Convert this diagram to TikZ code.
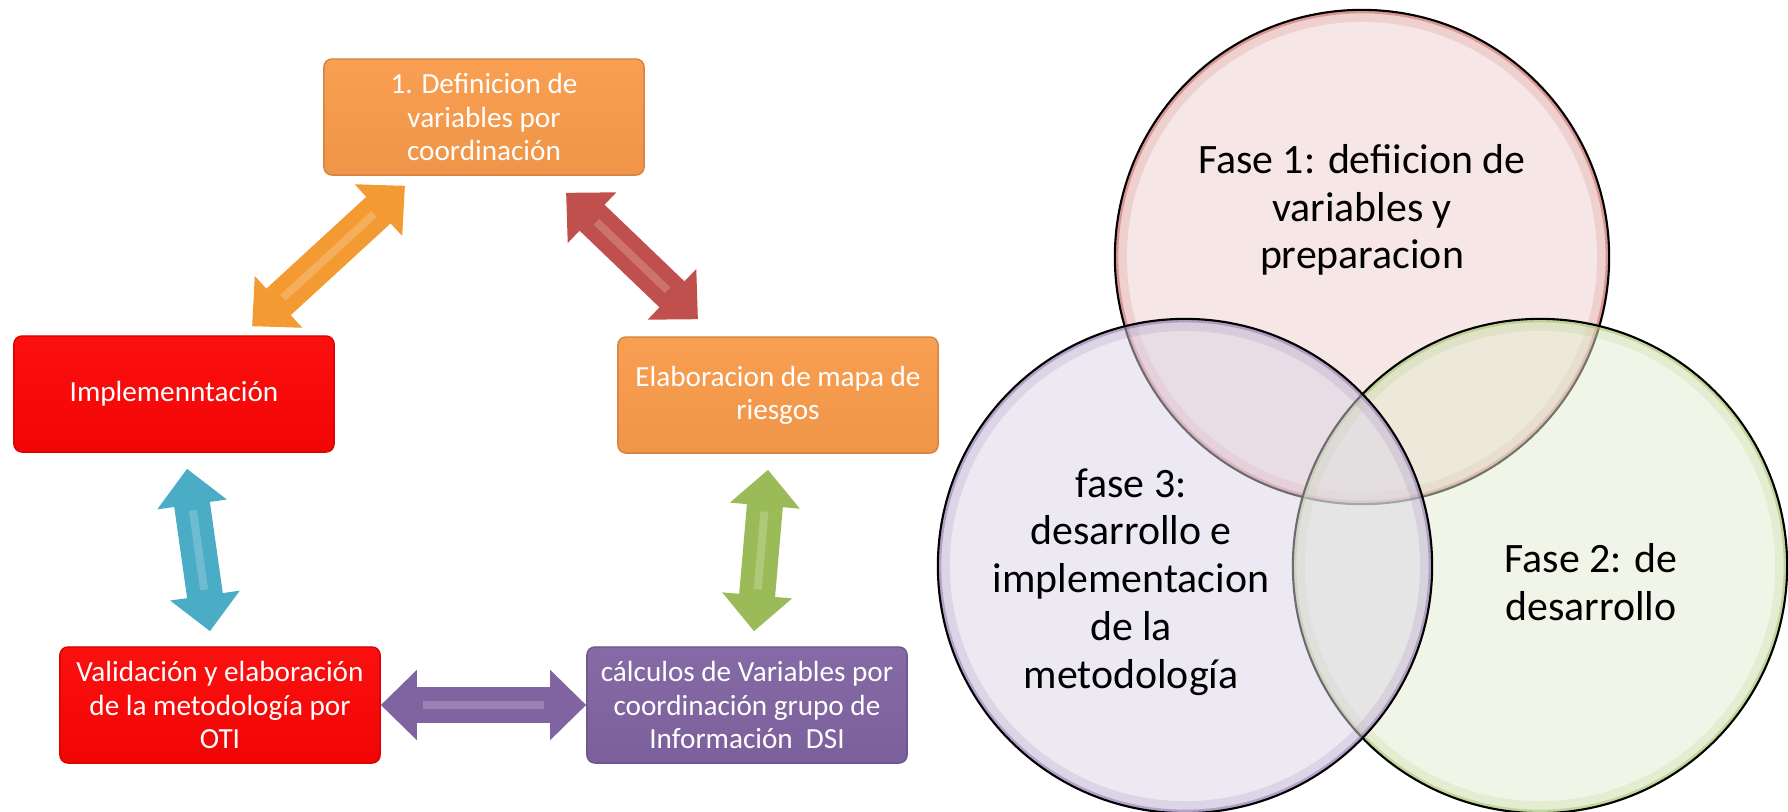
\documentclass[tikz,border=0pt]{standalone}
\usepackage{fontspec}
\setmainfont{Carlito}
\usetikzlibrary{arrows.meta}
\definecolor{accorange}{RGB}{249,155,75}
\definecolor{boxred}{RGB}{252,5,5}
\definecolor{accpurple}{RGB}{128,100,162}
\definecolor{accred}{RGB}{192,80,77}
\definecolor{accblue}{RGB}{75,172,198}
\definecolor{accgreen}{RGB}{155,187,89}
\definecolor{arrorange}{RGB}{243,155,50}

\begin{document}
\begin{tikzpicture}[x=0.01cm,y=-0.01cm,
    box/.style={rectangle,rounded corners=0.08cm,minimum width=3.2cm,minimum height=1.16cm,inner sep=0pt,align=center,text=white,font=\fontsize{8.3}{9.4}\selectfont,draw=#1!85!black,top color=#1!96!white,bottom color=#1!96!black},
    blockarr/.style={draw=#1,line width=0.36cm,{Triangle[length=0.36cm,width=0.68cm]}-{Triangle[length=0.36cm,width=0.68cm]},postaction={draw=white,draw opacity=0.2,line width=0.08cm,-,shorten <=0.42cm,shorten >=0.42cm}},
    bubble/.style={circle,minimum size=4.94cm,inner sep=0pt,fill=#1!28,fill opacity=0.5,draw=black,line width=0.6pt,path picture={\draw[#1,line width=0.24cm,draw opacity=0.15] (path picture bounding box.center) circle[radius=2.47cm];\draw[#1,line width=0.07cm,draw opacity=0.45] (path picture bounding box.center) circle[radius=2.47cm];}},
    bubbletext/.style={align=center,font=\fontsize{11.9}{13.6}\selectfont}]
    \useasboundingbox (0,0) rectangle (1788,811);
    \node[box=accorange] (def) at (484,117) {1. Definicion de\\variables por\\coordinación};
    \node[box=boxred] (impl) at (174,394) {Implemenntación};
    \node[box=accorange] (mapa) at (778,395) {Elaboracion de mapa de\\riesgos};
    \node[box=boxred] (valid) at (220,705) {Validación y elaboración\\de la metodología por\\OTI};
    \node[box=accpurple] (calc) at (747,705) {cálculos de Variables por\\coordinación grupo de\\Información\ \ DSI};
    \draw[blockarr=arrorange] ([xshift=0.78cm,yshift=0.09cm]impl.north) -- ([xshift=-0.79cm,yshift=-0.1cm]def.south);
    \draw[blockarr=accred] ([xshift=0.82cm,yshift=-0.17cm]def.south) -- ([xshift=-0.8cm,yshift=0.17cm]mapa.north);
    \draw[blockarr=accblue] ([xshift=0.13cm,yshift=-0.16cm]impl.south) -- ([xshift=-0.1cm,yshift=0.15cm]valid.north);
    \draw[blockarr=accgreen] ([xshift=-0.1cm,yshift=-0.16cm]mapa.south) -- ([xshift=0.07cm,yshift=0.15cm]calc.north);
    \draw[blockarr=accpurple] (valid.east) -- (calc.west);
    \node[bubble=accred] (f1) at (1362,257) {};
    \node[bubble=accgreen] (f2) at (1540,566) {};
    \node[bubble=accpurple] (f3) at (1185,566) {};
    \node[bubbletext] (t1) at (1362,210) {Fase 1: defiicion de\\variables y\\preparacion};
    \node[bubbletext] (t2) at (1591,582) {Fase 2: de\\desarrollo};
    \node[bubbletext] (t3) at (1131,582) {fase 3:\\desarrollo e\\implementacion\\de la\\metodología};
\end{tikzpicture}
\end{document}
